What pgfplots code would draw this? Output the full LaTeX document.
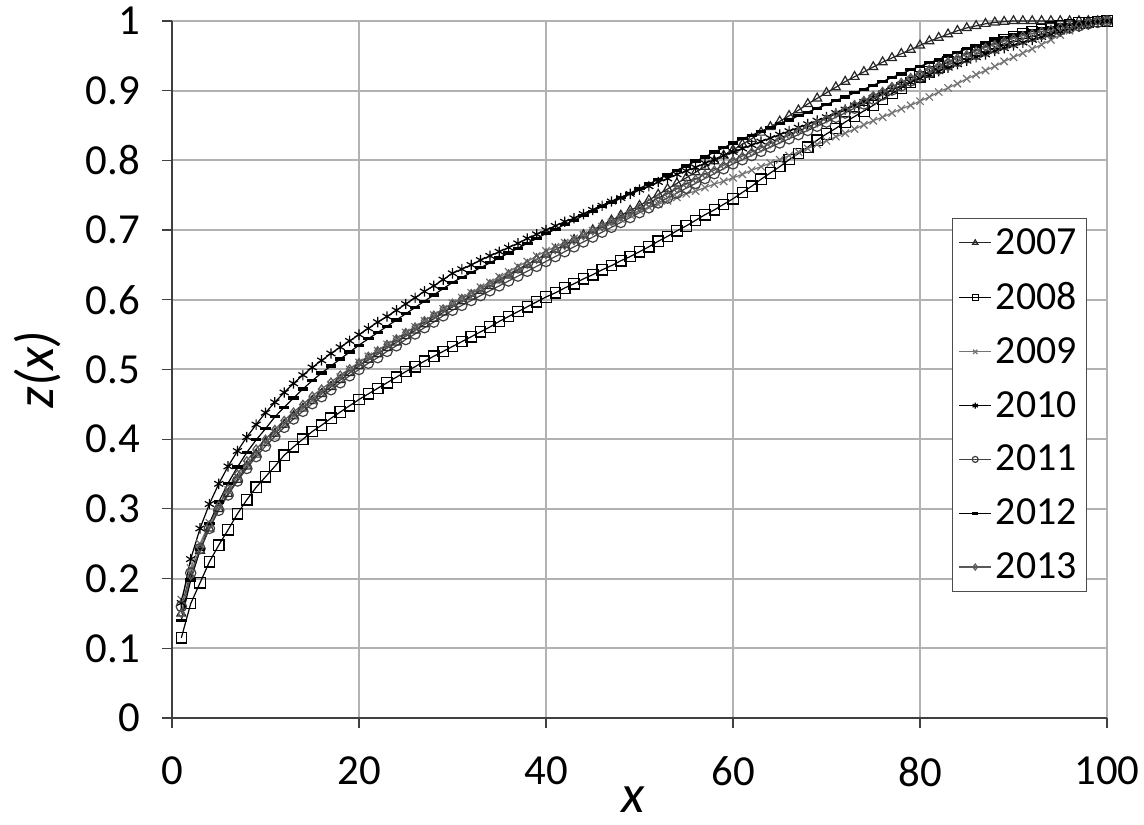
\documentclass[border=0pt]{standalone}
\usepackage{fontspec}
\setmainfont{Carlito}
\usepackage{pgfplots}
\pgfplotsset{compat=1.18}
\usepackage{pgfplotstable}

% x, then z(x) for each year
\pgfplotstableread{
x a b c d e f g
1 0.150 0.115 0.170 0.165 0.160 0.140 0.150
2 0.200 0.164 0.215 0.228 0.208 0.198 0.204
3 0.240 0.194 0.250 0.272 0.243 0.242 0.244
4 0.272 0.224 0.280 0.307 0.272 0.279 0.277
5 0.300 0.248 0.305 0.336 0.298 0.310 0.305
6 0.322 0.270 0.327 0.361 0.320 0.337 0.329
7 0.342 0.293 0.346 0.383 0.340 0.360 0.350
8 0.361 0.313 0.364 0.403 0.358 0.381 0.369
9 0.378 0.331 0.380 0.421 0.375 0.399 0.386
10 0.395 0.346 0.395 0.438 0.390 0.415 0.400
11 0.408 0.361 0.409 0.453 0.404 0.432 0.414
12 0.421 0.377 0.422 0.467 0.417 0.446 0.427
13 0.433 0.389 0.434 0.480 0.429 0.459 0.439
14 0.444 0.400 0.445 0.492 0.440 0.472 0.450
15 0.455 0.411 0.456 0.503 0.451 0.484 0.462
16 0.465 0.420 0.467 0.513 0.461 0.495 0.472
17 0.475 0.430 0.478 0.523 0.471 0.505 0.482
18 0.485 0.439 0.489 0.532 0.481 0.515 0.492
19 0.495 0.448 0.500 0.541 0.491 0.525 0.501
20 0.505 0.457 0.510 0.550 0.500 0.535 0.510
21 0.514 0.465 0.519 0.559 0.509 0.544 0.519
22 0.522 0.473 0.527 0.568 0.517 0.553 0.527
23 0.531 0.481 0.536 0.576 0.526 0.562 0.536
24 0.539 0.489 0.544 0.585 0.534 0.571 0.544
25 0.548 0.497 0.553 0.594 0.543 0.580 0.553
26 0.556 0.504 0.561 0.603 0.551 0.589 0.561
27 0.565 0.512 0.570 0.612 0.560 0.598 0.570
28 0.573 0.519 0.578 0.620 0.568 0.607 0.578
29 0.582 0.526 0.587 0.629 0.577 0.616 0.587
30 0.590 0.533 0.595 0.638 0.585 0.625 0.595
31 0.598 0.540 0.603 0.644 0.592 0.632 0.602
32 0.605 0.547 0.610 0.650 0.599 0.639 0.609
33 0.613 0.554 0.618 0.657 0.606 0.646 0.616
34 0.620 0.561 0.625 0.663 0.613 0.653 0.623
35 0.628 0.569 0.633 0.669 0.620 0.660 0.630
36 0.635 0.576 0.640 0.675 0.627 0.667 0.637
37 0.643 0.583 0.648 0.681 0.634 0.674 0.644
38 0.650 0.590 0.655 0.688 0.641 0.681 0.651
39 0.658 0.597 0.663 0.694 0.648 0.688 0.658
40 0.665 0.604 0.670 0.700 0.655 0.695 0.665
41 0.672 0.610 0.676 0.706 0.662 0.701 0.672
42 0.679 0.617 0.682 0.712 0.669 0.708 0.678
43 0.686 0.623 0.688 0.717 0.676 0.714 0.685
44 0.693 0.630 0.693 0.723 0.683 0.721 0.692
45 0.700 0.636 0.699 0.729 0.690 0.727 0.699
46 0.707 0.643 0.705 0.735 0.697 0.734 0.705
47 0.714 0.649 0.711 0.741 0.704 0.740 0.712
48 0.721 0.656 0.716 0.746 0.711 0.747 0.719
49 0.728 0.662 0.722 0.752 0.718 0.753 0.725
50 0.735 0.669 0.728 0.758 0.725 0.760 0.732
51 0.743 0.676 0.733 0.763 0.732 0.766 0.739
52 0.751 0.684 0.737 0.769 0.739 0.773 0.746
53 0.759 0.691 0.742 0.774 0.746 0.779 0.752
54 0.767 0.699 0.747 0.780 0.753 0.786 0.759
55 0.775 0.706 0.752 0.785 0.760 0.792 0.766
56 0.783 0.714 0.756 0.790 0.767 0.799 0.773
57 0.791 0.722 0.761 0.796 0.774 0.805 0.780
58 0.799 0.729 0.766 0.801 0.781 0.812 0.786
59 0.807 0.737 0.770 0.807 0.788 0.818 0.793
60 0.815 0.745 0.775 0.812 0.795 0.825 0.800
61 0.823 0.754 0.780 0.817 0.801 0.831 0.806
62 0.831 0.763 0.786 0.822 0.807 0.836 0.812
63 0.840 0.773 0.791 0.827 0.813 0.842 0.818
64 0.848 0.782 0.796 0.832 0.819 0.847 0.824
65 0.856 0.791 0.801 0.837 0.825 0.853 0.830
66 0.864 0.801 0.807 0.842 0.831 0.858 0.836
67 0.872 0.810 0.812 0.847 0.837 0.864 0.842
68 0.881 0.819 0.817 0.852 0.843 0.869 0.848
69 0.889 0.829 0.823 0.857 0.849 0.875 0.854
70 0.897 0.838 0.828 0.862 0.855 0.880 0.860
71 0.905 0.846 0.834 0.868 0.862 0.886 0.867
72 0.913 0.855 0.839 0.873 0.868 0.891 0.873
73 0.920 0.863 0.845 0.879 0.875 0.897 0.880
74 0.927 0.871 0.851 0.884 0.881 0.902 0.886
75 0.934 0.879 0.857 0.890 0.888 0.908 0.893
76 0.941 0.888 0.862 0.896 0.894 0.913 0.899
77 0.947 0.896 0.868 0.901 0.901 0.919 0.906
78 0.953 0.904 0.874 0.907 0.907 0.924 0.912
79 0.959 0.912 0.879 0.912 0.914 0.930 0.919
80 0.965 0.920 0.885 0.918 0.920 0.935 0.925
81 0.971 0.927 0.891 0.923 0.926 0.940 0.931
82 0.976 0.934 0.898 0.928 0.931 0.945 0.936
83 0.981 0.941 0.904 0.933 0.937 0.950 0.942
84 0.986 0.947 0.910 0.938 0.942 0.955 0.947
85 0.990 0.953 0.917 0.943 0.947 0.960 0.952
86 0.993 0.958 0.923 0.948 0.952 0.964 0.957
87 0.996 0.963 0.929 0.952 0.957 0.968 0.962
88 0.998 0.968 0.935 0.957 0.961 0.972 0.966
89 0.999 0.973 0.942 0.961 0.966 0.976 0.971
90 1.000 0.978 0.948 0.965 0.970 0.980 0.975
91 1.000 0.982 0.954 0.969 0.974 0.983 0.979
92 1.000 0.985 0.960 0.973 0.978 0.986 0.982
93 1.000 0.988 0.966 0.977 0.981 0.989 0.985
94 1.000 0.991 0.973 0.981 0.984 0.991 0.988
95 1.000 0.993 0.980 0.985 0.987 0.993 0.991
96 1.000 0.995 0.986 0.989 0.990 0.995 0.993
97 1.000 0.997 0.992 0.992 0.993 0.997 0.995
98 1.000 0.998 0.996 0.995 0.996 0.998 0.997
99 1.000 0.999 0.999 0.998 0.998 0.999 0.999
100 1.000 1.000 1.000 1.000 1.000 1.000 1.000
}\zdata

\begin{document}
\begin{tikzpicture}
\begin{axis}[
    name=ax,
    scale only axis,
    width=467.5bp, height=348.5bp,
    xmin=0, xmax=100, ymin=0, ymax=1,
    xtick={0,20,40,60,80,100},
    ytick={0,0.1,0.2,0.3,0.4,0.5,0.6,0.7,0.8,0.9,1},
    grid=major,
    grid style={gray!60, line width=1bp},
    axis x line=bottom, axis y line=left,
    axis line style={-, black!75, line width=0.8bp},
    tick align=outside,
    major tick length=5bp,
    tick style={black!75, line width=0.6bp},
    ticklabel style={font=\fontsize{21.5}{25}\selectfont},
    /pgf/number format/assume math mode=true,
    yticklabel style={/pgf/number format/fixed, /pgf/number format/precision=1, xshift=-7.5bp},
    xticklabel style={yshift=-11bp},
    xlabel={\itshape x}, ylabel={\itshape z(x)},
    label style={font=\fontsize{27}{30}\selectfont},
    xlabel style={at={([yshift=-41bp]axis description cs:0.493,0)}, anchor=center},
    ylabel style={at={([xshift=-67bp]axis description cs:0,0.5)}, anchor=center},
    legend style={at={(0.9786,0.7174)}, anchor=north east, draw=black!70,
        font=\fontsize{20}{24}\selectfont, row sep=8.5bp, inner sep=3bp},
    legend cell align=left,
    legend image code/.code={\draw[mark repeat=2, mark phase=2, #1, mark size=1.5bp]
        plot coordinates {(0bp,0bp) (8bp,0bp) (16bp,0bp)};},
    every axis plot/.append style={line width=0.6bp, mark size=2.6bp, mark options={solid}},
]
\addplot[black!85, mark=triangle] table[x=x, y=a] {\zdata};
\addlegendentry{2007}
\addplot[black, mark=square] table[x=x, y=b] {\zdata};
\addlegendentry{2008}
\addplot[black!55, mark=x] table[x=x, y=c] {\zdata};
\addlegendentry{2009}
\addplot[black, mark=asterisk] table[x=x, y=d] {\zdata};
\addlegendentry{2010}
\addplot[black!75, mark=o] table[x=x, y=e] {\zdata};
\addlegendentry{2011}
\addplot[black, mark=-, mark options={line width=1.6bp}] table[x=x, y=f] {\zdata};
\addlegendentry{2012}
\addplot[black!65, mark=diamond, mark size=2bp] table[x=x, y=g] {\zdata};
\addlegendentry{2013}
\end{axis}
\pgfresetboundingbox
\path[use as bounding box] ([xshift=-86bp, yshift=-53.5bp]ax.south west)
    rectangle ([xshift=18.5bp, yshift=10.5bp]ax.north east);
\end{tikzpicture}
\end{document}
